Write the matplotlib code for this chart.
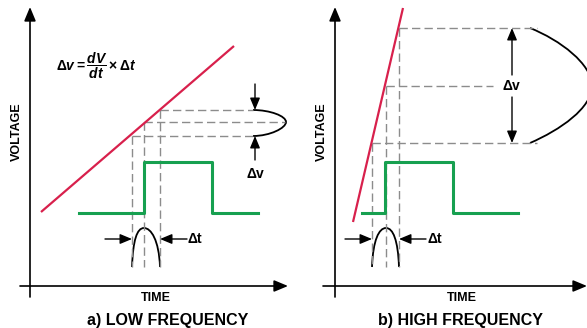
import matplotlib
matplotlib.use('Agg')
import matplotlib.pyplot as plt
from matplotlib.path import Path
from matplotlib.patches import PathPatch, FancyArrowPatch

plt.rcParams['font.family'] = ['Liberation Sans', 'DejaVu Sans']
plt.rcParams['mathtext.fontset'] = 'custom'
plt.rcParams['mathtext.it'] = 'Liberation Sans:italic:bold'
plt.rcParams['mathtext.rm'] = 'Liberation Sans:bold'

# 畫面座標 (像素, y 向下)
RED = '#d8204c'
GREEN = '#17a050'
GRAY = '#8c8c8c'

# a) low frequency
a_axis_x = 30
a_ramp_x = [41, 234]
a_ramp_y = [212, 46]
a_levels = [110, 122, 136]          # 三條水平虛線
a_times = [160, 144, 132]           # 對應的時間位置
a_dash_end = [253, 285, 253]
a_pulse_x = [79, 144, 144, 212, 212, 258]
a_pulse_y = [213, 213, 162, 162, 213, 213]

# b) high frequency
b_axis_x = 335
b_ramp_x = [353, 403]
b_ramp_y = [222, 8]
b_levels = [28, 86, 143]
b_times = [399, 386, 372]
b_dash_end = [537, 493, 537]
b_pulse_x = [362, 385, 385, 453, 453, 518]
b_pulse_y = [213, 213, 162, 162, 213, 213]

axis_y = 286
jitter_bottom = 267
jitter_peak = 228

fig = plt.figure(figsize=(5.87, 3.28), dpi=100)
ax = fig.add_axes([0, 0, 1, 1])
ax.set_xlim(0, 587)
ax.set_ylim(328, 0)
ax.axis('off')


def arrow(x0, y0, x1, y1, lw=1.0, head=6):
    ax.add_patch(FancyArrowPatch((x0, y0), (x1, y1),
                                 arrowstyle='-|>,head_length=0.6,head_width=0.25',
                                 mutation_scale=head * 2, lw=lw,
                                 color='black', shrinkA=0, shrinkB=0))


def curve(pts, codes):
    ax.add_patch(PathPatch(Path(pts, codes), fc='none', ec='black', lw=1.3))


def jitter(t_left, t_mid, t_right):
    pts = [(t_left, jitter_bottom), (t_left + 1, 240), (t_mid - 7, jitter_peak), (t_mid, jitter_peak),
           (t_mid + 7, jitter_peak), (t_right - 1, 240), (t_right, jitter_bottom)]
    codes = [Path.MOVETO] + [Path.CURVE4] * 6
    curve(pts, codes)


def panel(axis_x, ramp_x, ramp_y, levels, times, dash_end, pulse_x, pulse_y,
          x_end, xl_start, title, title_x, time_x):
    # 座標軸
    arrow(axis_x, 297, axis_x, 7, lw=1.2, head=7)
    arrow(xl_start, axis_y, x_end, axis_y, lw=1.2, head=7)
    ax.text(axis_x - 13, 132, 'VOLTAGE', rotation=90, ha='center', va='center',
            fontsize=9, fontweight='bold')
    ax.text(time_x, 298, 'TIME', ha='center', va='center', fontsize=9, fontweight='bold')
    ax.text(title_x, 320, title, ha='center', va='center', fontsize=11.5, fontweight='bold')

    # 虛線
    for lev, t, xe in zip(levels, times, dash_end):
        ax.plot([t, xe], [lev, lev], color=GRAY, lw=1, dashes=(6, 3))
        ax.plot([t, t], [lev, jitter_bottom], color=GRAY, lw=1, dashes=(6, 3))

    ax.plot(ramp_x, ramp_y, color=RED, lw=1.6, solid_capstyle='butt')
    ax.plot(pulse_x, pulse_y, color=GREEN, lw=2.2)

    jitter(times[2], times[1], times[0])
    arrow(times[2] - 27, 239, times[2], 239, head=6)
    arrow(times[0] + 27, 239, times[0], 239, head=6)
    ax.text(times[0] + 28, 239, 'Δt', ha='left', va='center', fontsize=10, fontweight='bold')


panel(a_axis_x, a_ramp_x, a_ramp_y, a_levels, a_times, a_dash_end, a_pulse_x, a_pulse_y,
      288, 20, 'a) LOW FREQUENCY', 168, 156)
panel(b_axis_x, b_ramp_x, b_ramp_y, b_levels, b_times, b_dash_end, b_pulse_x, b_pulse_y,
      587, 323, 'b) HIGH FREQUENCY', 460, 462)

# a 的 Δv 標記
curve([(253, 110), (270, 110), (286, 116), (286, 122),
       (286, 128), (270, 136), (253, 136)],
      [Path.MOVETO] + [Path.CURVE4] * 6)
arrow(255, 84, 255, 110, head=6)
arrow(255, 160, 255, 136, head=6)
ax.text(255, 174, 'Δv', ha='center', va='center', fontsize=10, fontweight='bold')
ax.text(56, 66, r'$\Delta v = \dfrac{dV}{dt} \times \Delta t$', ha='left', va='center',
        fontsize=10)

# b 的 Δv 標記
curve([(530, 28), (560, 40), (592, 64), (592, 86),
       (592, 108), (560, 130), (530, 143)],
      [Path.MOVETO] + [Path.CURVE4] * 6)
arrow(512, 75, 512, 28, head=6)
arrow(512, 97, 512, 143, head=6)
ax.text(511, 86, 'Δv', ha='center', va='center', fontsize=10, fontweight='bold')

fig.savefig('out.png', dpi=100)
